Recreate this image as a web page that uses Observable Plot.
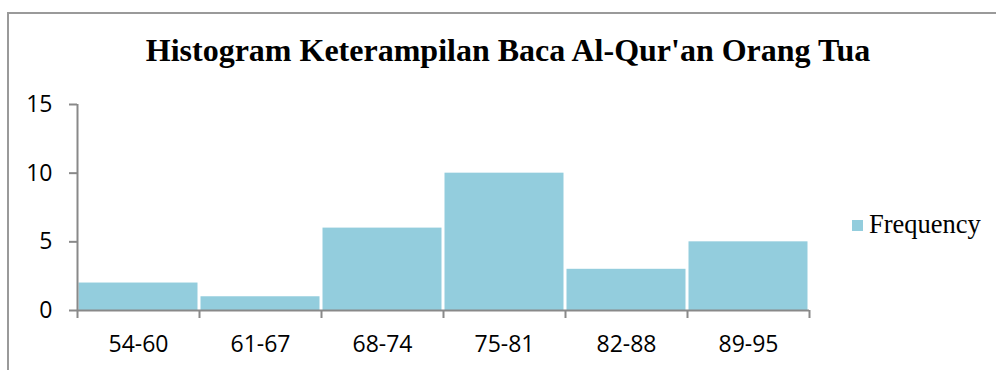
<!DOCTYPE html>
<html>
<head>
<meta charset="utf-8">
<script src="https://cdn.jsdelivr.net/npm/d3@7"></script>
<script src="https://cdn.jsdelivr.net/npm/@observablehq/plot@0.6"></script>
<style>
  html, body { margin: 0; padding: 0; background: #fff; }
  #wrap { position: relative; width: 996px; height: 370px; overflow: hidden; }
  #border { position: absolute; left: 7px; top: 12px; width: 1200px; height: 600px;
            border-left: 2px solid #9a9a9a; border-top: 2px solid #9a9a9a; }
  #title { position: absolute; left: 0; width: 1016px; top: 34px; text-align: center;
           font-family: "Liberation Serif", "Times New Roman", serif; font-weight: bold;
           font-size: 32px; line-height: 32px; color: #000; white-space: nowrap; }
  #legend { position: absolute; left: 852px; top: 211px; font-family: "Liberation Serif", serif;
            font-size: 26.5px; line-height: 26px; color: #000; white-space: nowrap; }
  #legend .sw { display: inline-block; width: 11px; height: 11px; margin-right: 6px; vertical-align: 2px; }
  #chart { position: absolute; left: 0; top: 0; }
</style>
</head>
<body>
<div id="wrap">
  <div id="chart"></div>
  <div id="border"></div>
  <div id="title"></div>
  <div id="legend"></div>
</div>
<script>
const title = "Histogram Keterampilan Baca Al-Qur'an Orang Tua";
const categories = ["54-60", "61-67", "68-74", "75-81", "82-88", "89-95"];
const frequency = [2, 1, 6, 10, 3, 5];
const yTicks = [0, 5, 10, 15];
const seriesName = "Frequency";
const barColor = "#93CDDD";
const axisColor = "#898989";

const rows = categories.map((c, i) => ({i, category: c, freq: frequency[i]}));

const chart = Plot.plot({
  width: 996,
  height: 370,
  marginLeft: 77,
  marginRight: 187,
  marginTop: 104,
  marginBottom: 60,
  style: {fontFamily: "'Open Sans', sans-serif", fontSize: "23px", color: "#000", background: "transparent"},
  x: {type: "linear", domain: [0, categories.length], axis: null, label: null},
  y: {domain: [0, 15], axis: null, label: null},
  marks: [
    Plot.rectY(rows, {x1: "i", x2: d => d.i + 1, y: "freq", fill: barColor, insetLeft: 1.5, insetRight: 1.5}),
    Plot.ruleX([0], {stroke: axisColor, strokeWidth: 2}),
    Plot.ruleY([0], {stroke: axisColor, strokeWidth: 2}),
    Plot.axisY({ticks: yTicks, label: null, tickSize: 8, tickPadding: 17, tickFormat: d => String(d), stroke: axisColor, fill: "#000", strokeWidth: 2}),
    Plot.axisX({ticks: d3.range(categories.length + 1), label: null, tickSize: 8, tickFormat: () => "", stroke: axisColor, strokeWidth: 2}),
    Plot.axisX({ticks: rows.map(d => d.i + 0.5), label: null, tickSize: 0, tickPadding: 25, tickFormat: d => categories[Math.floor(d)], fill: "#000"})
  ]
});
document.getElementById("chart").appendChild(chart);
document.getElementById("title").textContent = title;
document.getElementById("legend").innerHTML = `<span class="sw" style="background:${barColor}"></span>${seriesName}`;
</script>
</body>
</html>
